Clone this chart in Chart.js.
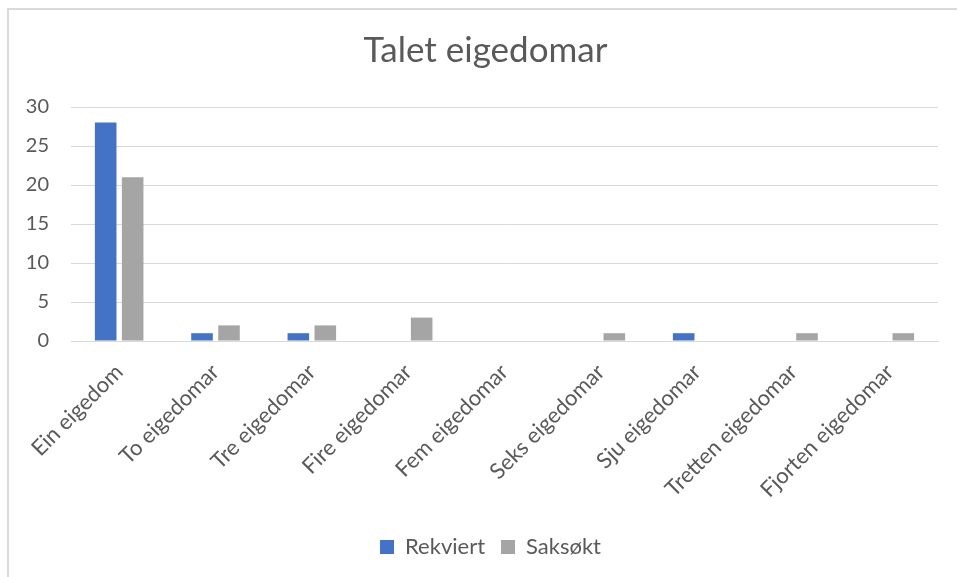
<!DOCTYPE html>
<html>
<head>
<meta charset="utf-8">
<script src="https://cdn.jsdelivr.net/npm/chart.js@4/dist/chart.umd.min.js"></script>
<style>
  html, body { margin: 0; padding: 0; background: #fff; overflow: hidden; }
  #frame { position: absolute; left: 7px; top: 8px; width: 960px; height: 580px; border: 2px solid #d9d9d9; }
  #wrap { position: absolute; left: 0; top: 0; width: 957px; height: 577px; }
</style>
</head>
<body>
<div id="frame"></div>
<div id="wrap"><canvas id="chartEiendom"></canvas></div>
<script>
var kategoriar = ['Ein eigedom', 'To eigedomar', 'Tre eigedomar', 'Fire eigedomar', 'Fem eigedomar',
                  'Seks eigedomar', 'Sju eigedomar', 'Tretten eigedomar', 'Fjorten eigedomar'];
var rekviert = [28, 1, 1, 0, 0, 0, 1, 0, 0];
var saksokt = [21, 2, 2, 3, 0, 1, 0, 1, 1];
var yTicks = [0, 5, 10, 15, 20, 25, 30];

var tekstFarge = '#595959';
var fontFamily = 'Lato, "Open Sans", sans-serif';

// flyttar tittel og forklaring litt mot høgre, som i Excel-figuren
var midtstill = {
  id: 'midtstill',
  afterLayout: function(chart) {
    if (chart.titleBlock) { chart.titleBlock.left += 33; }
    if (chart.legend) { chart.legend.left += 43; }
  }
};

var ctx = document.getElementById('chartEiendom');

var chart = new Chart(ctx, {
  type: 'bar',
  data: {
    labels: kategoriar,
    datasets: [
      {
        label: 'Rekviert',
        backgroundColor: '#4472C4',
        data: rekviert
      },
      {
        label: 'Saksøkt',
        backgroundColor: '#A5A5A5',
        data: saksokt
      }
    ]
  },
  plugins: [midtstill],
  options: {
    responsive: true,
    maintainAspectRatio: false,
    animation: false,
    categoryPercentage: 0.56,
    barPercentage: 0.8,
    layout: { padding: { left: 0, right: 19, top: 0, bottom: 9 } },
    plugins: {
      title: {
        display: true,
        text: 'Talet eigedomar',
        color: tekstFarge,
        font: { family: fontFamily, size: 35, weight: 'normal' },
        padding: { top: 30, bottom: 35 }
      },
      legend: {
        position: 'bottom',
        labels: {
          color: tekstFarge,
          font: { family: fontFamily, size: 22 },
          boxWidth: 14,
          boxHeight: 14,
          padding: 16
        }
      },
      tooltip: { enabled: false }
    },
    scales: {
      x: {
        afterFit: function(scale) { scale.height = 179; },
        grid: { display: false, drawTicks: false },
        border: { color: '#D9D9D9', width: 1 },
        ticks: {
          color: tekstFarge,
          font: { family: fontFamily, size: 22 },
          maxRotation: 45,
          minRotation: 45,
          padding: 18,
          autoSkip: false
        }
      },
      y: {
        min: 0,
        max: 30,
        afterBuildTicks: function(scale) {
          scale.ticks = yTicks.map(function(v) { return { value: v }; });
        },
        afterFit: function(scale) { scale.width = 71; },
        grid: { color: '#D9D9D9', drawTicks: false },
        border: { display: false },
        ticks: {
          color: tekstFarge,
          font: { family: fontFamily, size: 20 },
          padding: 22
        }
      }
    }
  }
});
</script>
</body>
</html>
